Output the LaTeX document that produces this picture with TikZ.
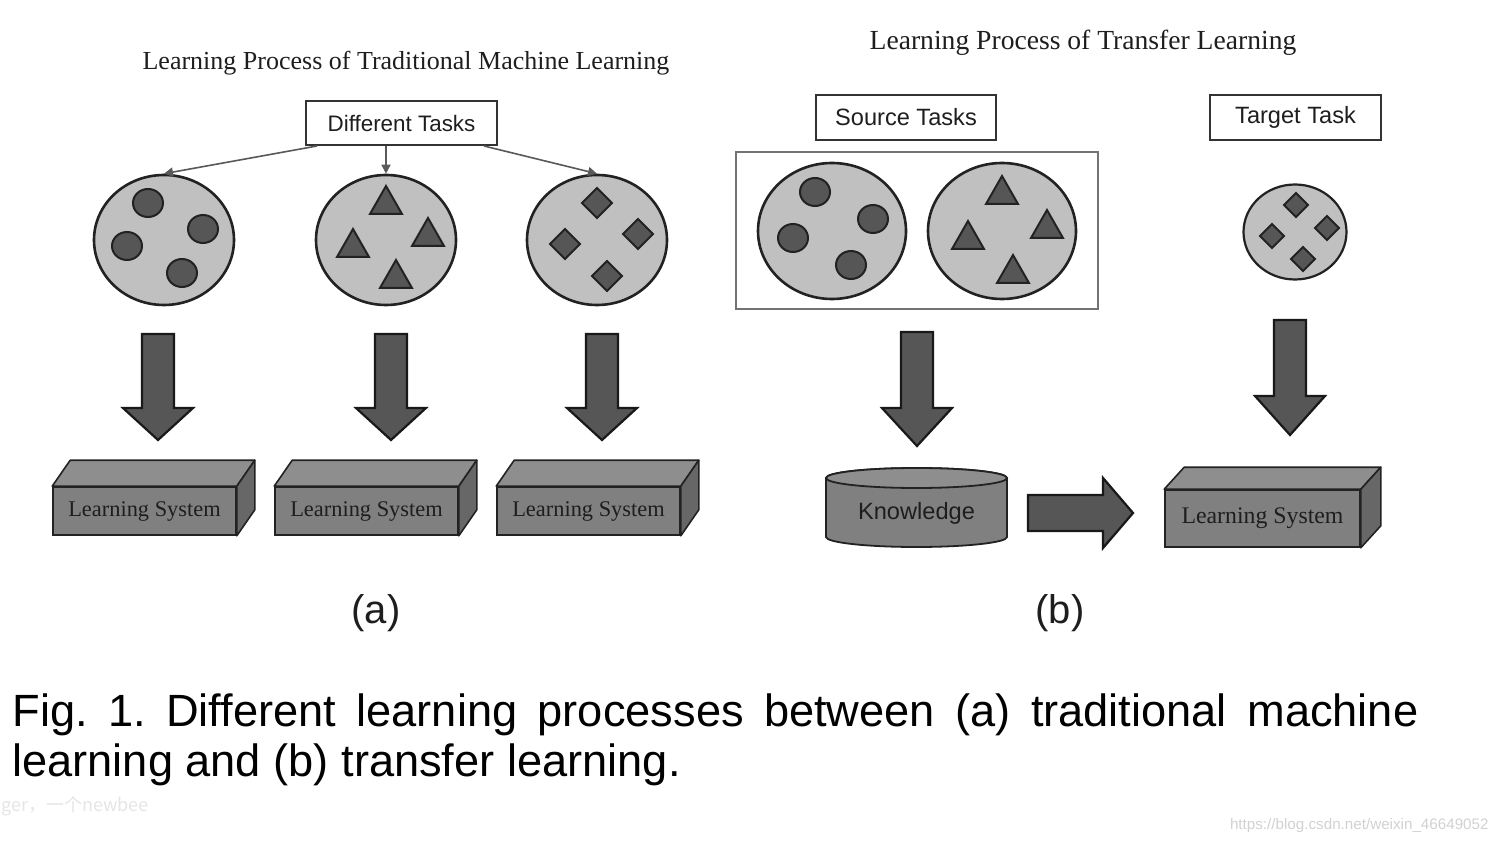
\documentclass[tikz,border=0pt]{standalone}
\usepackage{fontspec}
\setmainfont{Liberation Serif}
\newfontfamily\arial{Liberation Sans}
\newfontfamily\cjkfont{Noto Sans CJK SC}
\usetikzlibrary{shapes.geometric,arrows.meta}
\definecolor{ellfill}{HTML}{C0C0C0}
\definecolor{darkfill}{HTML}{565656}
\definecolor{edge}{HTML}{222222}
\definecolor{frontc}{HTML}{808080}
\definecolor{topc}{HTML}{8E8E8E}
\definecolor{sidec}{HTML}{676767}
\definecolor{txt}{HTML}{1E1E1E}
\newcommand\PX{0.5pt}
\newcommand\Circ[2]{\draw[innerfill] (#1,#2) ellipse [x radius=7.5pt, y radius=7pt];}
\newcommand\Tri[2]{\draw[innerfill] (#1-16,#2+13) -- (#1+16,#2+13) -- (#1,#2-15) -- cycle;}
\newcommand\Dia[3]{\draw[innerfill] (#1,#2-#3) -- (#1+#3,#2) -- (#1,#2+#3) -- (#1-#3,#2) -- cycle;}
\newcommand\DownArr[4]{\draw[blockarrow] (#1-16,#2) -- (#1+16,#2) -- (#1+16,#3) -- (#1+35,#3) -- (#1,#4) -- (#1-35,#3) -- (#1-16,#3) -- cycle;}
\newcommand\LSBox[8]{%
 \node[lsfront, minimum width=#4*\PX, minimum height=#5*\PX, font=\fontsize{#8}{14}\selectfont] (#1) at (#2,#3) {Learning System};
 \draw[lstop] (#1.north west) -- ([shift={(#6,-#7)}]#1.north west) -- ([shift={(#6,-#7)}]#1.north east) -- (#1.north east) -- cycle;
 \draw[lsside] (#1.north east) -- ([shift={(#6,-#7)}]#1.north east) -- ([shift={(#6,-#7)}]#1.south east) -- (#1.south east) -- cycle;}
\begin{document}
\begin{tikzpicture}[x=0.5pt,y=-0.5pt,
  ell/.style={ellipse, draw=edge, line width=1.3pt, fill=ellfill, inner sep=0pt},
  innerfill/.style={draw=edge, line width=1pt, fill=darkfill},
  blockarrow/.style={draw=black!90, line width=1.1pt, fill=darkfill, line join=miter},
  lsfront/.style={draw=edge, line width=0.8pt, fill=frontc, inner sep=0pt, text=txt},
  lstop/.style={draw=edge, line width=0.8pt, fill=topc, line join=round},
  lsside/.style={draw=edge, line width=0.8pt, fill=sidec, line join=round},
  taskbox/.style={draw=black!80, line width=1pt, fill=white, inner sep=0pt, font=\arial\fontsize{11.8}{14}\selectfont, text=txt},
  thinarrow/.style={draw=black!65, line width=0.8pt, -{Triangle[length=4.5pt,width=4.5pt]}},
  title/.style={font=\fontsize{13}{15}\selectfont, text=txt, inner sep=0pt}
]
\useasboundingbox (0,0) rectangle (1498,844);

% ---------------- (a) ----------------
\node[title] (ta) at (406,63) {Learning Process of Traditional Machine Learning};
\node[taskbox, minimum width=191*\PX, minimum height=44*\PX, font=\arial\fontsize{11.2}{14}\selectfont] (dt) at (401.5,123) {Different Tasks};

\node[ell, minimum width=140*\PX, minimum height=130*\PX] (e1) at (164,240) {};
\node[ell, minimum width=140*\PX, minimum height=130*\PX] (e2) at (386,240) {};
\node[ell, minimum width=140*\PX, minimum height=130*\PX] (e3) at (597,240) {};

\draw[thinarrow] ([xshift=12*\PX]dt.south west) -- (e1.north);
\draw[thinarrow] (e2.north |- dt.south) -- (e2.north);
\draw[thinarrow] ([xshift=-14*\PX]dt.south east) -- (e3.north);

\Circ{148}{203}\Circ{203}{229}\Circ{127}{246}\Circ{182}{273}
\Tri{386}{201}\Tri{428}{233}\Tri{353}{244}\Tri{396}{275}
\Dia{597}{203}{15}\Dia{638}{234}{15}\Dia{565}{244}{15}\Dia{607}{276}{15}

\DownArr{158}{334}{408}{440}
\DownArr{391}{334}{408}{440}
\DownArr{602}{334}{408}{440}

\LSBox{ls1}{144.5}{511}{183}{48}{18}{26}{11.2}
\LSBox{ls2}{366.5}{511}{183}{48}{18}{26}{11.2}
\LSBox{ls3}{588.5}{511}{183}{48}{18}{26}{11.2}

\node[font=\arial\fontsize{20}{24}\selectfont, text=txt] (la) at (376,613) {(a)};

% ---------------- (b) ----------------
\node[title, font=\fontsize{13.8}{16}\selectfont] (tb) at (1083,43) {Learning Process of Transfer Learning};
\node[taskbox, minimum width=180*\PX, minimum height=45*\PX] (st) at (906,117.5) {Source Tasks};
\node[taskbox, minimum width=171*\PX, minimum height=45*\PX] (tt) at (1295.5,117.5) {Target Task};

\node[draw=black!55, line width=0.9pt, minimum width=362*\PX, minimum height=157*\PX, inner sep=0pt] (sb) at (917,230.5) {};
\node[ell, minimum width=148*\PX, minimum height=136*\PX] (e4) at (832,231) {};
\node[ell, minimum width=148*\PX, minimum height=136*\PX] (e5) at (1002,231) {};
\Circ{815}{192}\Circ{873}{219}\Circ{793}{238}\Circ{851}{265}
\Tri{1002}{191}\Tri{1047}{225}\Tri{968}{236}\Tri{1013}{270}

\node[ell, line width=1.1pt, minimum width=103*\PX, minimum height=95*\PX] (e6) at (1295,232) {};
\Dia{1296}{205}{12}\Dia{1327}{228}{12}\Dia{1272}{236}{12}\Dia{1303}{259}{12}

\DownArr{917}{332}{408}{446}
\DownArr{1290}{320}{396}{435}

% knowledge cylinder
\draw[draw=edge, line width=0.9pt, fill=frontc] (826,478) -- (826,537) arc[start angle=180, end angle=360, x radius=90.5*\PX, y radius=10*\PX] -- (1007,478) arc[start angle=0, end angle=180, x radius=90.5*\PX, y radius=10*\PX] -- cycle;
\draw[draw=edge, line width=0.9pt, fill=topc] (916.5,478) ellipse [x radius=90.5*\PX, y radius=10*\PX];
\node[font=\arial\fontsize{11.8}{14}\selectfont, text=txt] (kn) at (916.5,513) {Knowledge};

\LSBox{ls4}{1262.5}{518.5}{195}{57}{20}{22}{11.9}

% transfer arrow
\draw[blockarrow] (1028,495) -- (1103,495) -- (1103,478) -- (1133,513) -- (1103,548) -- (1103,531) -- (1028,531) -- cycle;

\node[font=\arial\fontsize{20}{24}\selectfont, text=txt] (lb) at (1060,613) {(b)};

% ---------------- caption ----------------
\node[anchor=north west, text width=1406*\PX, align=justify, inner sep=0pt,
      font=\arial\fontsize{22.6}{25}\selectfont, text=black] (cap) at (12,693)
  {\frenchspacing Fig. 1. Different learning processes between (a) traditional machine learning and (b) transfer learning.};

% watermarks
\node[anchor=west, font=\cjkfont\fontsize{9}{10}\selectfont, text=black!10, inner sep=0pt] (wm1) at (1,806) {ger，一个newbee};
\node[anchor=east, font=\arial\fontsize{7.6}{9}\selectfont, text=black!18, inner sep=0pt] (wm2) at (1489,826) {https://blog.csdn.net/weixin\_46649052};
\end{tikzpicture}
\end{document}
